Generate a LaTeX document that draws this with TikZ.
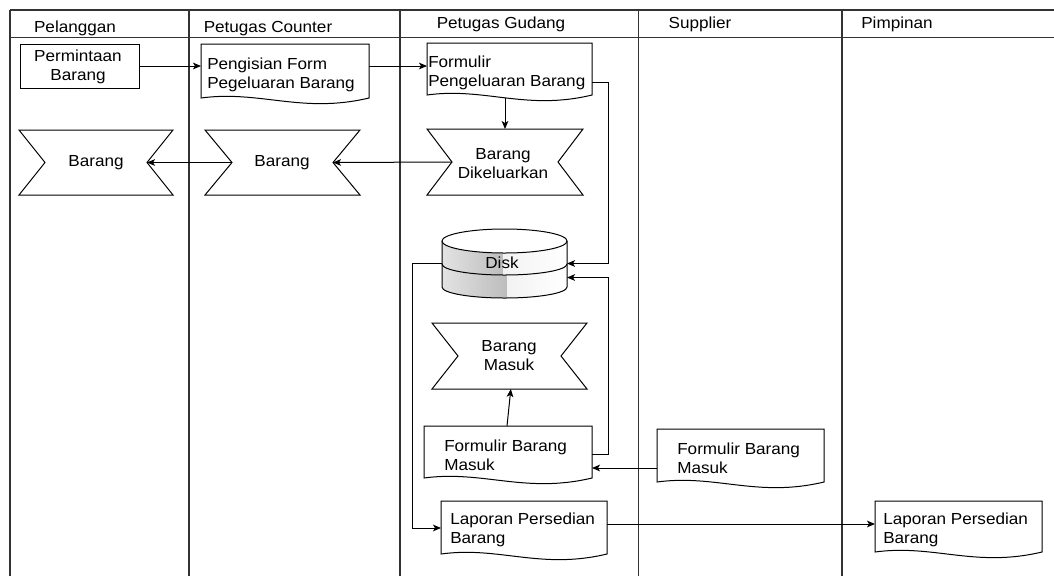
\documentclass[tikz,border=0pt]{standalone}
\usepackage{fontspec}
\setmainfont[FakeStretch=1.07]{Liberation Sans}
\usetikzlibrary{fit,arrows.meta,calc}
\newcommand\docshape[5]{%
  \draw[shp] (#2,-#3) -- (#4,-#3) -- (#4,{-#5+5})
    .. controls ({#2+0.6*(#4-#2)},{-#5-11}) and ({#2+0.35*(#4-#2)},{-#5+13}) .. (#2,{-#5+5}) -- cycle;
  \node[region, fit={(#2,-#3)(#4,-#5)}] (#1) {};}
\newcommand\ribbonshape[6]{%
  \draw[shp] (#2,-#3) -- (#4,-#3) -- ({#4-#6},{-(#3+#5)/2}) -- (#4,-#5) -- (#2,-#5)
    -- ({#2+#6},{-(#3+#5)/2}) -- cycle;
  \node[region, fit={(#2,-#3)(#4,-#5)}] (#1) {};
  \coordinate (#1-l) at ({#2+#6},{-(#3+#5)/2});
  \coordinate (#1-r) at ({#4-#6},{-(#3+#5)/2});}
\begin{document}
\begin{tikzpicture}[x=0.75pt,y=0.75pt,
  lane/.style={line width=1.1pt, draw=black!80},
  shp/.style={draw=black, line width=0.75pt, fill=white},
  region/.style={inner sep=0pt, outer sep=0pt},
  arr/.style={draw=black, line width=0.75pt, -{Stealth[length=6pt,width=5pt,inset=1.5pt]}},
  txt/.style={inner sep=0pt, font=\fontsize{12}{14.25}\selectfont},
  hdr/.style={inner sep=0pt, font=\fontsize{12}{14.25}\selectfont, anchor=base}]
\useasboundingbox (0,0) rectangle (1054,-576);
% swimlanes
\draw[lane] (10,-10) -- (1054,-10);
\draw[lane] (10,-37.5) -- (1054,-37.5);
\foreach \x in {10,189,400,638.5,842} \draw[lane] (\x,-10) -- (\x,-576);
\node[hdr] (h1) at (75,-32) {Pelanggan};
\node[hdr] (h2) at (268,-32) {Petugas Counter};
\node[hdr] (h3) at (501,-28.5) {Petugas Gudang};
\node[hdr] (h4) at (700,-28) {Supplier};
\node[hdr] (h5) at (897,-28.5) {Pimpinan};
% shapes
\draw[shp] (20,-44) rectangle (139,-88);
\node[region, fit={(20,-44)(139,-88)}] (perm) {};
\docshape{pf}{201}{44}{369}{103}
\docshape{fpb}{427}{43}{592}{100}
\ribbonshape{bp}{19}{130}{173}{195}{26}
\ribbonshape{bc}{205}{130}{360}{195}{27}
\ribbonshape{bd}{427}{129}{583}{195}{25}
\ribbonshape{bm}{432}{323}{587}{389}{26}
\docshape{fbmG}{424}{426}{592}{483}
\docshape{fbmS}{657}{429}{824}{487}
\docshape{lapG}{441}{501}{607}{559}
\docshape{lapP}{875}{501}{1042}{557}
% disk
\begin{scope}
  \clip (442,-241) -- (442,-287) arc[start angle=180,end angle=360,x radius=62.5,y radius=11] -- (567,-241) -- cycle;
  \shade[left color=gray!22, right color=gray!52] (442,-228) rectangle (503,-300);
  \shade[left color=gray!10, right color=white] (503,-228) rectangle (567,-300);
\end{scope}
\begin{scope}
  \clip (442,-264) arc[start angle=180,end angle=360,x radius=62.5,y radius=11] -- (567,-287)
    arc[start angle=0,end angle=-180,x radius=62.5,y radius=11] -- cycle;
  \shade[left color=gray!22, right color=gray!52] (442,-250) rectangle (507,-300);
  \shade[left color=gray!10, right color=white] (507,-250) rectangle (567,-300);
\end{scope}
\draw[line width=0.75pt] (442,-241) -- (442,-287) arc[start angle=180,end angle=360,x radius=62.5,y radius=11] -- (567,-241);
\draw[line width=0.75pt] (442,-264) arc[start angle=180,end angle=360,x radius=62.5,y radius=11];
\draw[shp] (504.5,-241) ellipse[x radius=62.5,y radius=12];
\node[region, fit={(442,-229)(567,-298)}] (disk) {};
% texts
\node[txt, align=center] (perm-t) at (78,-67) {Permintaan\\Barang};
\node[txt, align=left, anchor=west] (pf-t) at (207,-74.5) {Pengisian Form\\Pegeluaran Barang};
\node[txt, align=left, anchor=west] (fpb-t) at (428,-72.5) {Formulir\\Pengeluaran Barang};
\node[txt] (bp-t) at (96,-163) {Barang};
\node[txt] (bc-t) at (282,-163) {Barang};
\node[txt, align=center] (bd-t) at (503,-164) {Barang\\Dikeluarkan};
\node[txt] (disk-t) at (502,-263) {Disk};
\node[txt, align=center] (bm-t) at (509,-356) {Barang\\Masuk};
\node[txt, align=left, anchor=west] (fbmG-t) at (444,-455.5) {Formulir Barang\\Masuk};
\node[txt, align=left, anchor=west] (fbmS-t) at (677,-458.5) {Formulir Barang\\Masuk};
\node[txt, align=left, anchor=west] (lapG-t) at (450,-529.5) {Laporan Persedian\\Barang};
\node[txt, align=left, anchor=west] (lapP-t) at (883,-529.5) {Laporan Persedian\\Barang};
% connectors
\draw[arr] (perm.east) -- (perm.east -| pf.west);
\coordinate (pf-o) at (perm.east -| pf.east);
\draw[arr] (pf-o) -- (pf-o -| fpb.west);
\coordinate (fpb-b) at (bd.north |- fpb.south);
\draw[arr] ([yshift=1.5pt]fpb-b) -- (bd.north);
\draw[arr] (bd-l) -- (bc-r);
\draw[arr] (bc-l) -- (bp-r);
\coordinate (fpb-o) at ([yshift=-8.6pt]fpb.east);
\draw[arr] (fpb-o) -- ++(16,0) |- (disk.east);
\coordinate (disk-i2) at ([yshift=-10.5pt]disk.east);
\draw[arr] (fbmG.east) -- ++(16.5,0) |- (disk-i2);
\coordinate (lg-i) at ([yshift=1.5pt]lapG.west);
\draw[arr] (disk.west) -- ++(-30,0) |- (lg-i);
\draw[arr] ([xshift=-0.75pt]fbmG.north) -- ([xshift=1pt]bm.south);
\coordinate (s-o) at ([yshift=-7.5pt]fbmS.west);
\draw[arr] (s-o) -- (s-o -| fbmG.east);
\coordinate (lg-o) at ([yshift=4.5pt]lapG.east);
\draw[arr] (lg-o) -- (lg-o -| lapP.west);
\end{tikzpicture}
\end{document}
